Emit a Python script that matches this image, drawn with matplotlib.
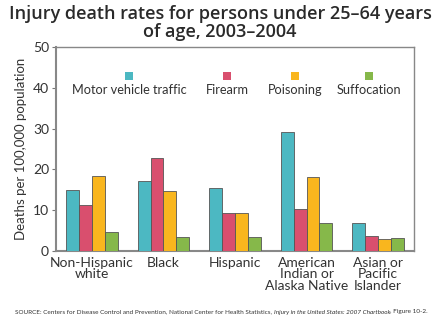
import matplotlib
matplotlib.use("Agg")
import matplotlib.pyplot as plt
import numpy as np

categories = ["Non-Hispanic\nwhite", "Black", "Hispanic",
              "American\nIndian or\nAlaska Native", "Asian or\nPacific\nIslander"]
series_names = ["Motor vehicle traffic", "Firearm", "Poisoning", "Suffocation"]
motor_vehicle = [15.0, 17.2, 15.4, 29.2, 6.8]
firearm = [11.3, 22.8, 9.2, 10.4, 3.7]
poisoning = [18.5, 14.8, 9.2, 18.2, 2.9]
suffocation = [4.7, 3.4, 3.4, 6.8, 3.1]
yticks = [0, 10, 20, 30, 40, 50]

colors = ["#4cb8c2", "#d94f6e", "#f9b61e", "#86b84a"]
values = [motor_vehicle, firearm, poisoning, suffocation]

plt.rcParams['font.family'] = ['Lato', 'DejaVu Sans']
fig = plt.figure(figsize=(4.4, 3.3), dpi=100)
ax = fig.add_axes([56/440, 1-251/330, 358/440, 204/330])

x = np.arange(len(categories))
w = 0.18
for i, (vals, c) in enumerate(zip(values, colors)):
    ax.bar(x + (i - 1.5) * w, vals, width=w, color=c, edgecolor="#555555", linewidth=0.6, zorder=3)

ax.set_xlim(-0.5, 4.5)
ax.set_ylim(0, 50)
ax.set_yticks(yticks)
ax.set_yticklabels([str(t) for t in yticks], fontsize=10, color="#333333")
ax.set_xticks(x)
ax.set_xticklabels(categories, fontsize=10, color="#333333", linespacing=0.95)
ax.tick_params(axis='x', length=0, pad=4)
ax.tick_params(axis='y', length=3, color="#777777", pad=2)
for s in ax.spines.values():
    s.set_color("#888888")
    s.set_linewidth(1.0)
ax.spines['bottom'].set_linewidth(1.5)
ax.spines['left'].set_linewidth(1.5)

ax.set_ylabel("Deaths per 100,000 population", fontsize=9.5, color="#333333", labelpad=4)

# legend: square above label
leg_x = [129, 227, 295, 369]
for name, c, lx in zip(series_names, colors, leg_x):
    xf = (lx - 56) / 358
    ax.scatter([xf], [1 - (76 - 47) / 204], transform=ax.transAxes, marker='s', s=40,
               color=c, edgecolor="none", clip_on=False, zorder=4)
    ax.text(xf, 1 - (90 - 47) / 204, name, transform=ax.transAxes, ha='center', va='center',
            fontsize=9.2, color="#333333")

fig.text(0.5, 1 - 23/330, "Injury death rates for persons under 25\u201364 years\nof age, 2003\u20132004",
         ha='center', va='center', fontsize=13, fontweight='semibold', color="#2a2a2a",
         linespacing=0.95, family=['Open Sans', 'DejaVu Sans'])

# source line
y_src = 1 - 312/330
fs = 4.6
t1 = fig.text(15/440, y_src, "SOURCE: Centers for Disease Control and Prevention, National Center for Health Statistics, ",
              fontsize=fs, color="#333333", va='center')
t2 = fig.text(0, 0, "Injury in the United States: 2007 Chartbook", fontsize=fs, color="#333333",
              style='italic', va='center')
t3 = fig.text(0, 0, ", Figure 10-2.", fontsize=fs, color="#333333", va='center')
fig.canvas.draw()
r = fig.canvas.get_renderer()
bb1 = t1.get_window_extent(r)
t2.set_position((bb1.x1 / fig.bbox.width, y_src))
fig.canvas.draw()
bb2 = t2.get_window_extent(r)
t3.set_position((bb2.x1 / fig.bbox.width, y_src))

fig.savefig("out.png", dpi=100, facecolor="white")
